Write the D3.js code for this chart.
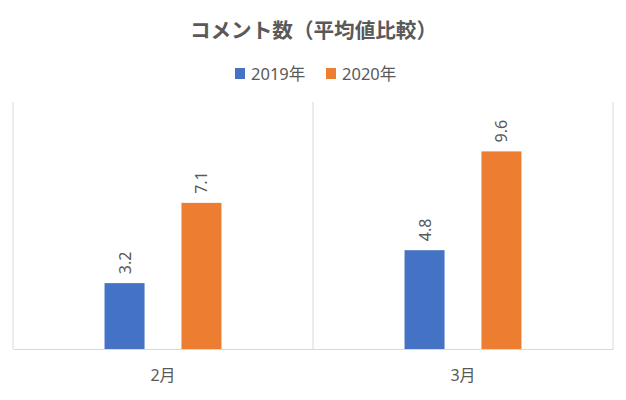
<!DOCTYPE html>
<html>
<head>
<meta charset="utf-8">
<script src="https://cdn.jsdelivr.net/npm/d3@7"></script>
<style>
  body { margin: 0; background: #fff; }
  text { font-family: "Noto Sans", "Noto Sans CJK JP", sans-serif; fill: #595959; }
</style>
</head>
<body>
<svg id="chart" width="626" height="400"></svg>
<script>
// data
const categories = ['2月', '3月'];
const seriesNames = ['2019年', '2020年'];
const values2019 = [3.2, 4.8];
const values2020 = [7.1, 9.6];
const colors = ['#4472C4', '#ED7D31'];

const width = 626;
const height = 400;
const plot = { left: 13, right: 613, top: 102, bottom: 349 };

const rows = categories.map((c, i) => ({ cat: c, vals: [values2019[i], values2020[i]] }));

const svg = d3.select('#chart');

// scales
const x0 = d3.scaleBand()
  .domain(categories)
  .range([plot.left, plot.right])
  .padding(0);

const x1 = d3.scaleBand()
  .domain(seriesNames)
  .range([0, x0.bandwidth()])
  .paddingInner(0.48)
  .paddingOuter(1.19);

const y = d3.scaleLinear()
  .domain([0, 12])
  .range([plot.bottom, plot.top]);

// vertical gridlines at category boundaries
const bounds = categories.map(c => x0(c)).concat([plot.right]);
svg.append('g')
  .selectAll('line')
  .data(bounds)
  .join('line')
  .attr('x1', d => d).attr('x2', d => d)
  .attr('y1', y(12)).attr('y2', y(0))
  .attr('stroke', '#d9d9d9')
  .attr('stroke-width', 1);

// bars
const groups = svg.append('g')
  .selectAll('g')
  .data(rows)
  .join('g')
  .attr('transform', d => `translate(${x0(d.cat)},0)`);

groups.selectAll('rect')
  .data(d => d.vals.map((v, i) => ({ name: seriesNames[i], v, i })))
  .join('rect')
  .attr('x', d => x1(d.name))
  .attr('width', x1.bandwidth())
  .attr('y', d => y(d.v))
  .attr('height', d => y(0) - y(d.v))
  .attr('fill', d => colors[d.i]);

// rotated value labels
groups.selectAll('text')
  .data(d => d.vals.map((v, i) => ({ name: seriesNames[i], v, i })))
  .join('text')
  .attr('transform', d => `translate(${x1(d.name) + x1.bandwidth() / 2 + 6},${y(d.v) - 9}) rotate(-90)`)
  .attr('font-size', 16)
  .text(d => d.v.toFixed(1));

// category axis
const xAxis = d3.axisBottom(x0).tickSize(0).tickPadding(21);
const ax = svg.append('g')
  .attr('transform', `translate(0,${plot.bottom})`)
  .call(xAxis);
ax.select('.domain').attr('stroke', '#d9d9d9');
ax.selectAll('text')
  .attr('font-size', 16)
  .attr('fill', '#595959')
  .style('font-family', '"Noto Sans", "Noto Sans CJK JP", sans-serif');

// title
svg.append('text')
  .attr('x', width / 2 + 0.5)
  .attr('y', 38)
  .attr('text-anchor', 'middle')
  .attr('font-size', 20.6)
  .attr('font-weight', 'bold')
  .style('font-family', '"Noto Sans CJK JP", sans-serif')
  .text('コメント数（平均値比較）');

// legend
const legendX = [235, 326];
const legend = svg.append('g')
  .selectAll('g')
  .data(seriesNames)
  .join('g')
  .attr('transform', (d, i) => `translate(${legendX[i]},68)`);
legend.append('rect')
  .attr('width', 10).attr('height', 11)
  .attr('fill', (d, i) => colors[i]);
legend.append('text')
  .attr('x', 16)
  .attr('y', 11.5)
  .attr('font-size', 16.5)
  .text(d => d);
</script>
</body>
</html>
